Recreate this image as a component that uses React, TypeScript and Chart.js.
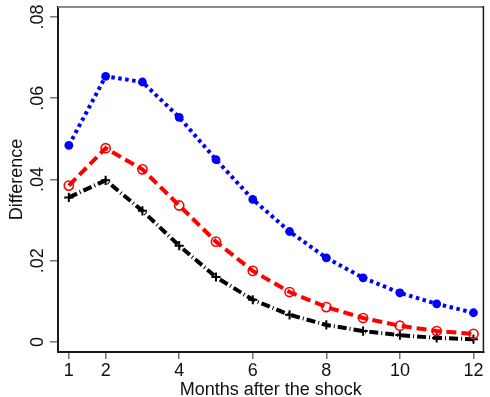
import React, { useEffect, useRef } from "react";
import { Chart, registerables } from "chart.js";

Chart.register(...registerables);

const months = [1, 2, 3, 4, 5, 6, 7, 8, 9, 10, 11, 12];
const blueSeries = [0.0484, 0.0654, 0.064, 0.0553, 0.0449, 0.0351, 0.0272, 0.0207, 0.0158, 0.0121, 0.0094, 0.0072];
const redSeries = [0.0385, 0.0477, 0.0425, 0.0336, 0.0247, 0.0175, 0.0123, 0.0086, 0.0059, 0.004, 0.0027, 0.002];
const blackSeries = [0.0356, 0.0398, 0.0323, 0.0237, 0.016, 0.0104, 0.0067, 0.0042, 0.0027, 0.0017, 0.001, 0.0007];
const xTicks = [1, 2, 4, 6, 8, 10, 12];
const yTicks = [0, 0.02, 0.04, 0.06, 0.08];
const yTickLabels = ["0", ".02", ".04", ".06", ".08"];
const xTitle = "Months after the shock";
const yTitle = "Difference";

const FONT = "'Liberation Sans', Arial, Helvetica, sans-serif";

const toPts = (vals: number[]) => months.map((m, i) => ({ x: m, y: vals[i] }));

const framePlugin = {
  id: "frame",
  afterDraw(chart: any) {
    const { ctx, chartArea } = chart;
    const { left, right, top, bottom } = chartArea;
    ctx.save();
    // top line (gray)
    ctx.strokeStyle = "#8a8a8a";
    ctx.lineWidth = 2;
    ctx.beginPath();
    ctx.moveTo(left, top);
    ctx.lineTo(right, top);
    ctx.stroke();
    // right line (dark)
    ctx.strokeStyle = "#1a1a1a";
    ctx.lineWidth = 1.5;
    ctx.beginPath();
    ctx.moveTo(right, top - 1);
    ctx.lineTo(right, bottom);
    ctx.stroke();
    // y tick labels, rotated
    const ys = chart.scales.y;
    ctx.fillStyle = "#111";
    ctx.font = `18px ${FONT}`;
    ctx.textAlign = "center";
    ctx.textBaseline = "alphabetic";
    yTicks.forEach((v, i) => {
      const py = ys.getPixelForValue(v);
      ctx.save();
      ctx.translate(42.5, py);
      ctx.rotate(-Math.PI / 2);
      ctx.fillText(yTickLabels[i], 0, 0);
      ctx.restore();
    });
    // y title
    ctx.save();
    ctx.translate(22, (top + bottom) / 2);
    ctx.rotate(-Math.PI / 2);
    ctx.fillText(yTitle, 0, 0);
    ctx.restore();
    // x title
    ctx.fillText(xTitle, (left + right) / 2, 395);
    ctx.restore();
  },
};

export default function App() {
  const ref = useRef<HTMLCanvasElement | null>(null);
  useEffect(() => {
    document.body.style.margin = "0";
    if (!ref.current) return;
    const chart = new Chart(ref.current, {
      type: "line",
      data: {
        datasets: [
          {
            data: toPts(blueSeries),
            borderColor: "#0000ff",
            backgroundColor: "#0000ff",
            borderWidth: 4,
            borderDash: [3.5, 3.5],
            pointStyle: "circle",
            pointRadius: 4.4,
            pointBorderWidth: 0,
            pointBackgroundColor: "#0000ff",
          },
          {
            data: toPts(redSeries),
            borderColor: "#ff0000",
            backgroundColor: "rgba(0,0,0,0)",
            borderWidth: 4,
            borderDash: [10, 5],
            pointStyle: "circle",
            pointRadius: 4.6,
            pointBorderWidth: 1.6,
            pointBorderColor: "#ff0000",
            pointBackgroundColor: "rgba(255,255,255,0)",
          },
          {
            data: toPts(blackSeries),
            borderColor: "#000000",
            backgroundColor: "#000000",
            borderWidth: 4,
            borderDash: [9, 3, 1, 3],
            pointStyle: "cross",
            pointRadius: 4.6,
            pointBorderWidth: 2,
            pointBorderColor: "#000000",
          },
        ],
      },
      options: {
        responsive: false,
        animation: false,
        layout: { padding: { top: 7, right: 1, left: 0, bottom: 0 } },
        plugins: {
          legend: { display: false },
          tooltip: { enabled: false },
        },
        elements: { line: { tension: 0, borderCapStyle: "butt" } },
        scales: {
          x: {
            type: "linear",
            min: 0.705,
            max: 12.27,
            afterBuildTicks: (s: any) => {
              s.ticks = xTicks.map((v) => ({ value: v }));
            },
            afterFit: (s: any) => {
              s.height = 45;
            },
            ticks: {
              font: { family: FONT, size: 18 },
              color: "#111",
              padding: 1,
              maxRotation: 0,
              autoSkip: false,
              callback: (v: any) => String(v),
            },
            grid: {
              drawOnChartArea: false,
              drawTicks: true,
              tickLength: 7,
              color: "#777",
              lineWidth: 1.5,
            },
            border: { display: true, color: "#1a1a1a", width: 2 },
            title: { display: false },
          },
          y: {
            type: "linear",
            min: -0.00246,
            max: 0.08246,
            afterBuildTicks: (s: any) => {
              s.ticks = yTicks.map((v) => ({ value: v }));
            },
            afterFit: (s: any) => {
              s.width = 58;
            },
            ticks: { display: false },
            grid: {
              drawOnChartArea: false,
              drawTicks: true,
              tickLength: 8,
              color: "#777",
              lineWidth: 1.5,
            },
            border: { display: true, color: "#1a1a1a", width: 2 },
          },
        },
      },
      plugins: [framePlugin],
    } as any);
    return () => chart.destroy();
  }, []);
  return (
    <div style={{ width: 490, height: 397 }}>
      <canvas ref={ref} width={490} height={397} />
    </div>
  );
}
